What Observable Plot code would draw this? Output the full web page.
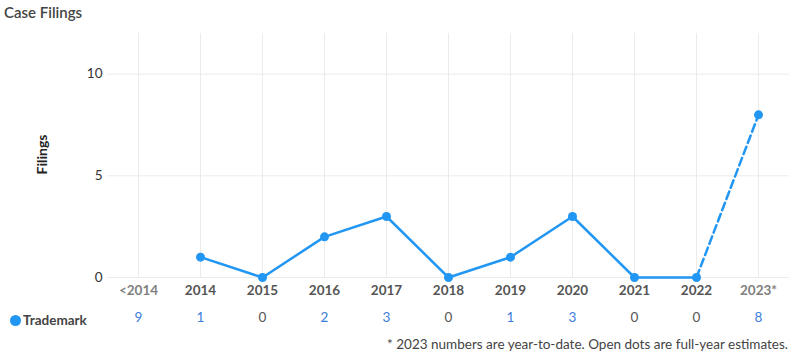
<!DOCTYPE html>
<html><head><meta charset="utf-8">
<script src="https://cdn.jsdelivr.net/npm/d3@7"></script>
<script src="https://cdn.jsdelivr.net/npm/@observablehq/plot@0.6"></script>
<style>
body{margin:0;background:#fff;font-family:Lato,sans-serif;}
#wrap{position:relative;width:800px;height:359px;overflow:hidden;}
#title{position:absolute;left:4px;top:3px;font-size:15px;color:#444;font-weight:600;}
#legend{position:absolute;left:10px;top:312px;font-size:13.5px;color:#444;font-weight:700;display:flex;align-items:center;}
#legend span.dot{display:inline-block;width:11px;height:11px;border-radius:50%;background:#2196f3;margin-right:2px;}
#foot{position:absolute;right:12px;top:336px;font-size:13.5px;color:#444;}
#chart{position:absolute;left:0;top:0;}
</style></head>
<body>
<div id="wrap">
<div id="chart"></div>
<div id="title">Case Filings</div>
<div id="legend"><span class="dot"></span>Trademark</div>
<div id="foot">* 2023 numbers are year-to-date. Open dots are full-year estimates.</div>
</div>
<script>
const years = ["<2014","2014","2015","2016","2017","2018","2019","2020","2021","2022","2023*"];
const counts = [9,1,0,2,3,0,1,3,0,0,8];
const seriesName = "Trademark";
const yTicks = [0,5,10];

const blue = "#2196f3";
const table = years.map((y,i)=>({year:y, count:counts[i]}));
const lineData = table.filter(d=>d.year!=="<2014");
const solid = lineData.filter(d=>d.year!=="2023*");
const dashed = lineData.slice(-2);

const chart = Plot.plot({
  width:800, height:359,
  marginTop:33, marginBottom:82, marginLeft:107, marginRight:11,
  style:{fontFamily:"Lato, sans-serif", fontSize:"13px", color:"#333", background:"#fff"},
  x:{type:"point", domain:years, padding:0.5, axis:null},
  y:{domain:[0,12], axis:null},
  marks:[
    Plot.gridX(years, {stroke:"#ebebeb", strokeOpacity:1}),
    Plot.gridY(yTicks, {stroke:"#ebebeb", strokeOpacity:1}),
    Plot.axisY({ticks:yTicks, tickSize:0, tickPadding:5, label:null, fontSize:13.5}),
    Plot.text(["Filings"], {frameAnchor:"left", dx:-65, dy:19, rotate:-90, text:d=>d, fontWeight:"bold", fontSize:14, fill:"#222"}),
    Plot.line(solid, {x:"year", y:"count", stroke:blue, strokeWidth:2.5}),
    Plot.line(dashed, {x:"year", y:"count", stroke:blue, strokeWidth:2.5, strokeDasharray:"8,4"}),
    Plot.dot(lineData, {x:"year", y:"count", r:4.5, fill:blue}),
    Plot.text(years.filter(y=>/^\d+$/.test(y)), {x:d=>d, text:d=>d, frameAnchor:"bottom", dy:17, fontWeight:"bold", fill:"#555", fontSize:13.5}),
    Plot.text(years.filter(y=>!/^\d+$/.test(y)), {x:d=>d, text:d=>d, frameAnchor:"bottom", dy:17, fontWeight:"bold", fill:"#808080", fontSize:13.5}),
    Plot.text(table, {x:"year", text:d=>String(d.count), frameAnchor:"bottom", dy:44, fill:d=>d.count? "#3b7ddd":"#555", fontSize:13.5})
  ]
});
document.getElementById("chart").appendChild(chart);
</script>
</body></html>
